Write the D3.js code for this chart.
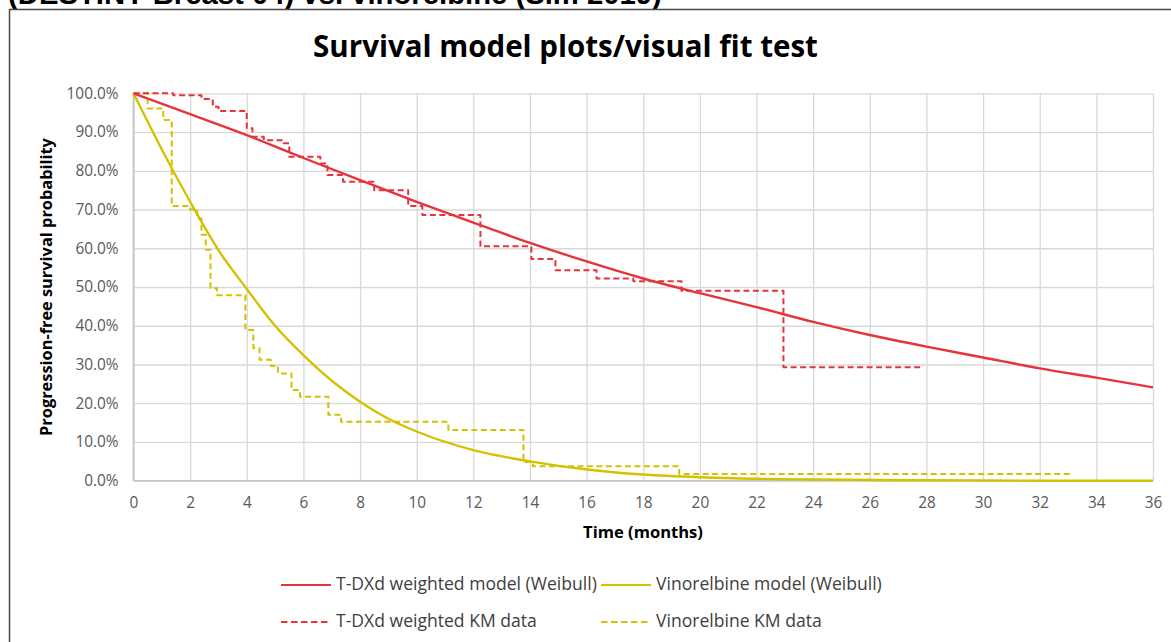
<!DOCTYPE html>
<html><head><meta charset="utf-8">
<script src="https://cdn.jsdelivr.net/npm/d3@7"></script>
<style>body{margin:0;background:#fff}svg{display:block}</style>
</head><body>
<svg id="c" width="1171" height="642"></svg>
<script>
// ---------- data ----------
const headerText = "(DESTINY-Breast 04) vs. vinorelbine (Sim 2019)";
const titleText = "Survival model plots/visual fit test";
const xTicks = [0,2,4,6,8,10,12,14,16,18,20,22,24,26,28,30,32,34,36];
const yTicks = [0,0.1,0.2,0.3,0.4,0.5,0.6,0.7,0.8,0.9,1.0];
const xTitle = "Time (months)";
const yTitle = "Progression-free survival probability";

// T-DXd weighted model (Weibull)
const tdxdModelT = [0,2,4,6,8,10,12,14,16,18,20,22,24,26,28,30,32,34,36];
const tdxdModelS = [1.0,0.946,0.892,0.833,0.776,0.720,0.666,0.614,0.566,0.522,0.484,0.448,0.410,0.376,0.346,0.318,0.290,0.266,0.241];

// Vinorelbine model (Weibull)
const vinModelT = [0,1,2,3,4,5,6,7,8,9,10,12,14,16,18,20,22,24,28,32,36];
const vinModelS = [1.0,0.855,0.72,0.595,0.495,0.40,0.324,0.258,0.204,0.16,0.127,0.079,0.050,0.029,0.016,0.009,0.005,0.003,0.001,0.0,0.0];

// T-DXd weighted KM data (step times / survival after step)
const tdxdKmT = [0,1.4,2.4,2.8,3.0,4.0,4.2,4.6,5.3,5.5,6.6,6.85,7.4,8.5,9.7,10.2,12.25,14.05,14.9,16.35,17.65,19.35,22.95,27.85];
const tdxdKmS = [1.0,0.995,0.985,0.965,0.954,0.91,0.888,0.879,0.871,0.836,0.819,0.789,0.772,0.750,0.709,0.686,0.605,0.572,0.543,0.522,0.515,0.490,0.293,0.293];

// Vinorelbine KM data
const vinKmT = [0,0.5,1.05,1.35,2.0,2.25,2.4,2.55,2.72,2.95,3.95,4.23,4.45,4.85,5.1,5.58,5.88,6.88,7.33,11.12,13.77,14.1,19.27,33.1];
const vinKmS = [1.0,0.961,0.931,0.709,0.70,0.676,0.635,0.596,0.497,0.479,0.389,0.342,0.312,0.296,0.277,0.234,0.217,0.170,0.152,0.131,0.048,0.037,0.017,0.017];

const legendLabels = ["T-DXd weighted model (Weibull)","Vinorelbine model (Weibull)","T-DXd weighted KM data","Vinorelbine KM data"];

// ---------- drawing ----------
const RED = "#e5343c", YEL = "#d4c100";
const FONT = "'Open Sans', 'Noto Sans', sans-serif";
const svg = d3.select("#c");

function fit(sel, w){
  const fs = parseFloat(sel.attr("font-size"));
  const L = sel.node().getComputedTextLength();
  sel.attr("font-size", fs * w / L);
  return fs * w / L;
}

// header (clipped at the top of the page, as in the source)
const hdr = svg.append("text").attr("x", 8).attr("y", 4)
  .attr("font-family","'Liberation Sans', Arial, sans-serif").attr("font-weight","bold")
  .attr("font-size", 22).attr("fill","#000").text(headerText);
fit(hdr, 654);

// frame
svg.append("rect").attr("x",9.5).attr("y",9.5).attr("width",1300).attr("height",800)
  .attr("fill","none").attr("stroke","#4a4a4a").attr("stroke-width",1.5);

// title
const ttl = svg.append("text").attr("x", 565.5).attr("y", 57).attr("text-anchor","middle")
  .attr("font-family",FONT).attr("font-weight",700).attr("font-size",28).attr("fill","#000").text(titleText);
fit(ttl, 505);

const x = d3.scaleLinear().domain([0,36]).range([133.5,1153]);
const y = d3.scaleLinear().domain([0,1]).range([480.7,93.3]);
const W = x(36)-x(0), H = y(0)-y(1);

// y axis with grid
const gy = svg.append("g").attr("transform",`translate(${x(0)},0)`)
  .call(d3.axisLeft(y).tickValues(yTicks).tickFormat(d3.format(".1%")).tickSize(-W).tickPadding(15));
gy.select(".domain").remove();
gy.selectAll(".tick line").attr("stroke","#d9d9d9").attr("stroke-width",1.3);
gy.selectAll(".tick text").attr("font-family",FONT).attr("font-size",14).attr("fill","#595959");
// size tick labels so "100.0%" spans its width in the source
const topLbl = gy.selectAll(".tick text").filter(d=>d===1);
const tickFs = fit(topLbl, 52);
gy.selectAll(".tick text").attr("font-size", tickFs);

// x axis with grid
const gx = svg.append("g").attr("transform",`translate(0,${y(0)})`)
  .call(d3.axisBottom(x).tickValues(xTicks).tickFormat(d3.format("d")).tickSize(-H).tickPadding(16));
gx.select(".domain").remove();
gx.selectAll(".tick line").attr("stroke","#d9d9d9").attr("stroke-width",1.3);
gx.selectAll(".tick text").attr("font-family",FONT).attr("font-size",tickFs).attr("fill","#595959");

// axis lines
svg.append("line").attr("x1",x(0)).attr("x2",x(0)).attr("y1",y(1)).attr("y2",y(0)).attr("stroke","#c4c4c4").attr("stroke-width",1.6);
svg.append("line").attr("x1",x(0)).attr("x2",x(36)).attr("y1",y(0)).attr("y2",y(0)).attr("stroke","#c4c4c4").attr("stroke-width",1.6);

// axis titles
const xt = svg.append("text").attr("x",643).attr("y",538).attr("text-anchor","middle")
  .attr("font-family",FONT).attr("font-weight",700).attr("font-size",14).attr("fill","#000").text(xTitle);
fit(xt, 120);
const yt = svg.append("text").attr("transform","translate(52,287) rotate(-90)").attr("text-anchor","middle")
  .attr("font-family",FONT).attr("font-weight",700).attr("font-size",13).attr("fill","#000").text(yTitle);
fit(yt, 298);

// curves
const smooth = d3.line().x(d=>x(d[0])).y(d=>y(d[1])).curve(d3.curveMonotoneX);
const step = d3.line().x(d=>x(d[0])).y(d=>y(d[1])).curve(d3.curveStepAfter);

const series = [
  {pts: d3.zip(vinKmT, vinKmS), gen: step, color: YEL, dash: "6,3.5", w: 2},
  {pts: d3.zip(tdxdKmT, tdxdKmS), gen: step, color: RED, dash: "6,3.5", w: 2},
  {pts: d3.zip(vinModelT, vinModelS), gen: smooth, color: YEL, dash: null, w: 2.4},
  {pts: d3.zip(tdxdModelT, tdxdModelS), gen: smooth, color: RED, dash: null, w: 2.4},
];
series.forEach(s=>{
  svg.append("path").attr("d", s.gen(s.pts)).attr("fill","none").attr("stroke",s.color)
    .attr("stroke-width",s.w).attr("stroke-dasharray",s.dash).attr("stroke-linejoin","round");
});

// legend
const legendItems = [
  {label: legendLabels[0], color: RED, dash: null, lx: 281, ly: 585},
  {label: legendLabels[1], color: YEL, dash: null, lx: 601, ly: 585},
  {label: legendLabels[2], color: RED, dash: "6.5,3.5", lx: 281, ly: 622},
  {label: legendLabels[3], color: YEL, dash: "6.5,3.5", lx: 601, ly: 622},
];
let legFs = 14;
legendItems.forEach((d,i)=>{
  svg.append("line").attr("x1",d.lx).attr("x2",d.lx+50).attr("y1",d.ly).attr("y2",d.ly)
    .attr("stroke",d.color).attr("stroke-width",2.2).attr("stroke-dasharray",d.dash);
  const t = svg.append("text").attr("x",d.lx+55).attr("y",d.ly+5)
    .attr("font-family",FONT).attr("font-size",legFs).attr("fill","#404040").text(d.label);
  if(i===0) legFs = fit(t, 261); else t.attr("font-size", legFs);
});
</script>
</body></html>
